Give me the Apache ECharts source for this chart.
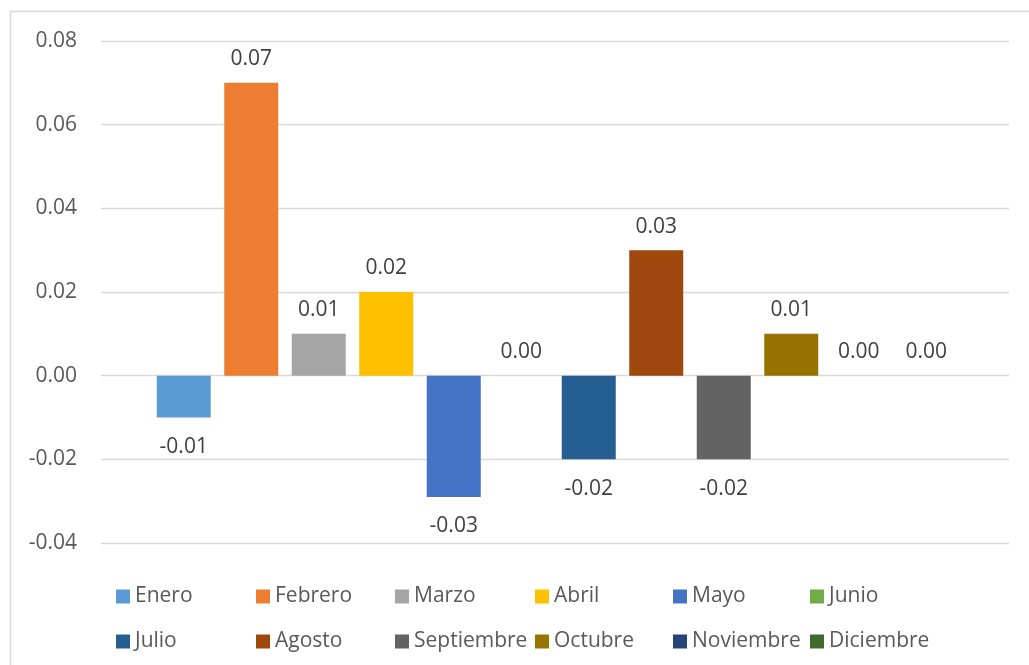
<!DOCTYPE html>
<html>
<head>
<meta charset="utf-8">
<script src="https://cdn.jsdelivr.net/npm/echarts@6/dist/echarts.min.js"></script>
<style>
  html, body { margin: 0; padding: 0; background: #fff; }
  #chart { width: 1029px; height: 665px; }
</style>
</head>
<body>
<div id="chart"></div>
<script>
// Monthly variation (one bar per month)
const months = ['Enero', 'Febrero', 'Marzo', 'Abril', 'Mayo', 'Junio',
                'Julio', 'Agosto', 'Septiembre', 'Octubre', 'Noviembre', 'Diciembre'];
const values = [-0.01, 0.07, 0.01, 0.02, -0.029, 0.00,
                -0.02, 0.03, -0.02, 0.01, 0.00, 0.00];
const colors = ['#5B9BD5', '#ED7D31', '#A5A5A5', '#FFC000', '#4472C4', '#70AD47',
                '#255E91', '#9E480E', '#636363', '#997300', '#264478', '#43682B'];
const yTicks = { min: -0.04, max: 0.08, interval: 0.02 };

const FONT = "'Open Sans', 'Noto Sans', sans-serif";
const FS = 21;
const chart = echarts.init(document.getElementById('chart'));

const series = months.map((name, i) => ({
  name: name,
  type: 'bar',
  barWidth: 54,
  barGap: '25%',
  itemStyle: { color: colors[i] },
  data: [{
    value: values[i],
    label: {
      show: true,
      position: values[i] < 0 ? 'bottom' : 'top',
      distance: values[i] < 0 ? 19 : 13
    }
  }],
  label: {
    show: true,
    color: '#404040',
    fontFamily: FONT,
    fontSize: FS,
    formatter: p => Number(p.value).toFixed(2)
  }
}));

// Legend laid out as a 2 x 6 grid, one entry per cell
const legendCols = [116, 256, 395, 535, 673, 810];
const legendRows = [586, 631];
const legends = months.map((name, i) => ({
  left: legendCols[i % 6] - 5,
  top: legendRows[Math.floor(i / 6)] - 5,
  padding: 5,
  itemWidth: 14,
  itemHeight: 14,
  icon: 'rect',
  selectedMode: false,
  data: [name],
  textStyle: { color: '#595959', fontFamily: FONT, fontSize: FS }
}));

chart.setOption({
  animation: false,
  backgroundColor: '#ffffff',
  color: colors,
  graphic: [{
    type: 'rect',
    shape: { x: 10.5, y: 11.5, width: 1040, height: 700 },
    style: { fill: 'none', stroke: '#D9D9D9', lineWidth: 1.5 },
    silent: true
  }],
  grid: { left: 101, right: 20, top: 41, bottom: 122, containLabel: false },
  legend: legends,
  xAxis: {
    type: 'category',
    data: [''],
    axisLine: { show: false },
    axisTick: { show: false },
    axisLabel: { show: false }
  },
  yAxis: {
    type: 'value',
    min: yTicks.min,
    max: yTicks.max,
    interval: yTicks.interval,
    axisLine: { show: false },
    axisTick: { show: false },
    splitLine: { lineStyle: { color: '#D9D9D9', width: 1.3 } },
    axisLabel: {
      color: '#595959',
      fontFamily: FONT,
      fontSize: FS,
      margin: 24,
      formatter: v => v.toFixed(2)
    }
  },
  series: series
});
</script>
</body>
</html>
